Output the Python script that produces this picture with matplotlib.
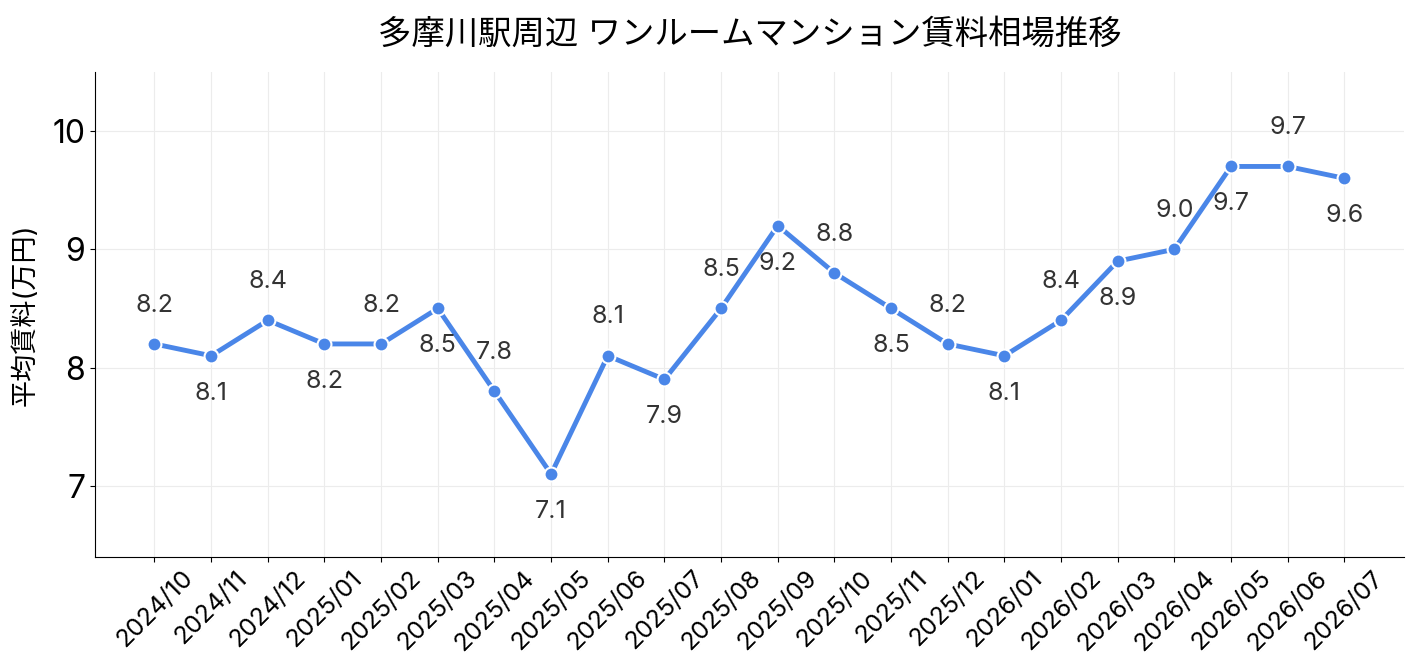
import matplotlib
matplotlib.use('Agg')
import matplotlib.pyplot as plt

plt.rcParams['font.family'] = ['Inter', 'Noto Sans CJK JP', 'DejaVu Sans']

# monthly average rent (10k yen)
months = ['2024/10', '2024/11', '2024/12', '2025/01', '2025/02', '2025/03',
          '2025/04', '2025/05', '2025/06', '2025/07', '2025/08', '2025/09',
          '2025/10', '2025/11', '2025/12', '2026/01', '2026/02', '2026/03',
          '2026/04', '2026/05', '2026/06', '2026/07']
rent = [8.2, 8.1, 8.4, 8.2, 8.2, 8.5, 7.8, 7.1, 8.1, 7.9, 8.5, 9.2,
        8.8, 8.5, 8.2, 8.1, 8.4, 8.9, 9.0, 9.7, 9.7, 9.6]
yticks = [7, 8, 9, 10]

fig, ax = plt.subplots(figsize=(14.18, 6.71), dpi=100)
x = list(range(len(months)))

ax.plot(x, rent, color='#4A86E8', linewidth=3.5, marker='o', markersize=10,
        markeredgecolor='white', markeredgewidth=1.5, zorder=3)

# labels alternate above / below
for i, v in enumerate(rent):
    dy = 28 if i % 2 == 0 else -27
    ax.annotate(f'{v:.1f}', (i, v), xytext=(0, dy), textcoords='offset points',
                ha='center', va='center', fontsize=18, color='#333333')

ax.set_xticks(x)
ax.set_xticklabels(months, rotation=45, ha='center', fontsize=18)
ax.set_yticks(yticks)
ax.tick_params(axis='y', labelsize=23)
ax.set_ylim(min(rent) - 0.7, max(rent) + 0.8)
ax.set_ylabel('平均賃料(万円)', fontsize=19.5, labelpad=10)
ax.set_title('多摩川駅周辺 ワンルームマンション賃料相場推移', fontsize=24, pad=20)

ax.grid(True, color='#ececec', linewidth=0.8)
ax.set_axisbelow(True)
ax.spines['top'].set_visible(False)
ax.spines['right'].set_visible(False)

plt.subplots_adjust(left=0.067, right=0.99, top=0.893, bottom=0.17)
plt.savefig('out.png', dpi=100)
